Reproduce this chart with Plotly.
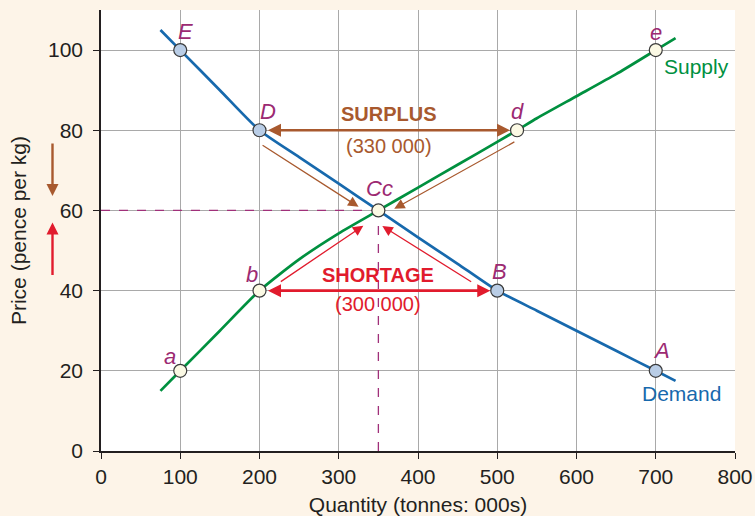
import plotly.graph_objects as go

# Data
demand_x = [75, 100, 150, 200, 250, 300, 350, 400, 450, 500, 550, 600, 650, 700, 725]
demand_y = [105, 100, 90, 80, 73.3, 66.7, 60, 53.3, 46.7, 40, 35, 30, 25, 20, 17.5]
supply_x = [75, 100, 150, 200, 250, 300, 350, 400, 450, 500, 525, 550, 600, 650, 700, 725]
supply_y = [15, 20, 30, 40, 47.8, 54.3, 60, 65.7, 71.4, 77.1, 80, 83, 88.5, 94, 100, 103]

demand_pts_x = [100, 200, 500, 700]
demand_pts_y = [100, 80, 40, 20]
supply_pts_x = [100, 200, 525, 700]
supply_pts_y = [20, 40, 80, 100]
eq_x, eq_y = 350, 60

x_ticks = [0, 100, 200, 300, 400, 500, 600, 700, 800]
y_ticks = [0, 20, 40, 60, 80, 100]

BLUE = "#1769ad"
GREEN = "#00903f"
BROWN = "#a8592e"
RED = "#e11b2d"
PURPLE = "#9c2a72"
FONT = "Liberation Sans, Arial, sans-serif"

fig = go.Figure()

# dashed equilibrium guides
fig.add_trace(go.Scatter(x=[0, eq_x], y=[eq_y, eq_y], mode="lines",
                         line=dict(color="#a0307a", width=1.3, dash="dash"),
                         hoverinfo="skip", showlegend=False))
fig.add_trace(go.Scatter(x=[eq_x, eq_x], y=[0, eq_y], mode="lines",
                         line=dict(color="#a0307a", width=1.3, dash="dash"),
                         hoverinfo="skip", showlegend=False))

fig.add_trace(go.Scatter(x=demand_x, y=demand_y, mode="lines", line=dict(color=BLUE, width=2.7, shape="spline", smoothing=0.6),
                         name="Demand", showlegend=False))
fig.add_trace(go.Scatter(x=supply_x, y=supply_y, mode="lines", line=dict(color=GREEN, width=2.7, shape="spline", smoothing=0.6),
                         name="Supply", showlegend=False))

fig.add_trace(go.Scatter(x=demand_pts_x, y=demand_pts_y, mode="markers",
                         marker=dict(size=13, color="#b9cde6", line=dict(color="#3a3a3a", width=1.2)),
                         showlegend=False))
fig.add_trace(go.Scatter(x=supply_pts_x + [eq_x], y=supply_pts_y + [eq_y], mode="markers",
                         marker=dict(size=13, color="#fbf9e4", line=dict(color="#3a3a3a", width=1.2)),
                         showlegend=False))

ann = []

def label(x, y, text, color, size=22, italic=False, bold=False, xanchor="center"):
    t = text
    if bold:
        t = "<b>" + t + "</b>"
    if italic:
        t = "<i>" + t + "</i>"
    ann.append(dict(x=x, y=y, xref="x", yref="y", text=t, showarrow=False,
                    font=dict(family=FONT, size=size, color=color), xanchor=xanchor, yanchor="middle"))

label(107, 104.6, "E", PURPLE, italic=True)
label(211, 84.6, "D", PURPLE, italic=True)
label(525, 84.6, "d", PURPLE, italic=True)
label(700, 104.3, "e", PURPLE, italic=True)
label(190, 44, "b", PURPLE, italic=True)
label(503, 44.7, "B", PURPLE, italic=True)
label(87, 23.6, "a", PURPLE, italic=True)
label(707, 25, "A", PURPLE, italic=True)
label(352, 65.6, "Cc", PURPLE, italic=True)
label(363, 84.1, "SURPLUS", BROWN, size=20, bold=True)
label(363, 76.1, "(330 000)", BROWN, size=20)
label(350, 43.8, "SHORTAGE", RED, size=20, bold=True)
label(349, 36.6, "(300 000)", RED, size=20)
label(751, 95.8, "Supply", GREEN, size=21)
label(733, 14.3, "Demand", BLUE, size=21)

def arrow(x0, y0, x1, y1, color, width=1.2, size=1.4, both=False, standoff=0):
    d = dict(x=x1, y=y1, ax=x0, ay=y0, xref="x", yref="y", axref="x", ayref="y",
             showarrow=True, arrowhead=2, arrowsize=size, arrowwidth=width,
             arrowcolor=color, text="", standoff=standoff)
    if both:
        d["arrowside"] = "end+start"
        d["startarrowhead"] = 2
        d["startarrowsize"] = size
        d["startstandoff"] = standoff
    ann.append(d)

arrow(200, 80, 525, 80, BROWN, width=2.6, size=1.0, both=True, standoff=7)
arrow(200, 40, 500, 40, RED, width=2.6, size=1.0, both=True, standoff=7)
arrow(202, 76.5, 325, 60.9, BROWN, width=1.3, size=1.6)
arrow(523.5, 77.3, 370, 60.4, BROWN, width=1.3, size=1.6)
arrow(225, 42, 331, 56.2, RED, width=1.3, size=1.6)
arrow(469, 42, 355, 56.1, RED, width=1.3, size=1.6)

# indicator arrows outside plot
ann.append(dict(x=-0.0765, y=63.6, xref="paper", yref="y", ax=0, ay=-54, showarrow=True,
                arrowhead=2, arrowsize=1.0, arrowwidth=2.4, arrowcolor=BROWN, text=""))
ann.append(dict(x=-0.0765, y=57.0, xref="paper", yref="y", ax=0, ay=54, showarrow=True,
                arrowhead=2, arrowsize=1.0, arrowwidth=2.4, arrowcolor=RED, text=""))

fig.update_layout(
    width=755, height=516,
    margin=dict(l=101, r=20, t=10, b=65),
    paper_bgcolor="#fdf4e8",
    plot_bgcolor="#ffffff",
    font=dict(family=FONT, size=20, color="#231f20"),
    annotations=ann,
    showlegend=False,
)
fig.update_xaxes(range=[0, 800], tickvals=x_ticks, ticktext=[str(v) for v in x_ticks],
                 showgrid=True, gridcolor="#a9a9a9", gridwidth=1, automargin=False,
                 showline=True, linecolor="#231f20", linewidth=1.5,
                 ticks="outside", ticklen=6, tickcolor="#231f20", zeroline=False,
                 title=dict(text="Quantity (tonnes: 000s)", standoff=14, font=dict(size=21)),
                 tickfont=dict(size=21))
fig.update_yaxes(range=[0, 110], tickvals=y_ticks, ticktext=[str(v) for v in y_ticks],
                 showgrid=True, gridcolor="#a9a9a9", gridwidth=1, automargin=False,
                 showline=True, linecolor="#231f20", linewidth=1.5,
                 ticks="outside", ticklen=6, tickcolor="#231f20", zeroline=False,
                 ticklabelstandoff=6,
                 title=dict(text="Price (pence per kg)", standoff=16, font=dict(size=21)),
                 tickfont=dict(size=21))

fig.write_html("out.html", config={"displayModeBar": False},
               post_script="document.body.style.margin='0';document.body.style.overflow='hidden';")
